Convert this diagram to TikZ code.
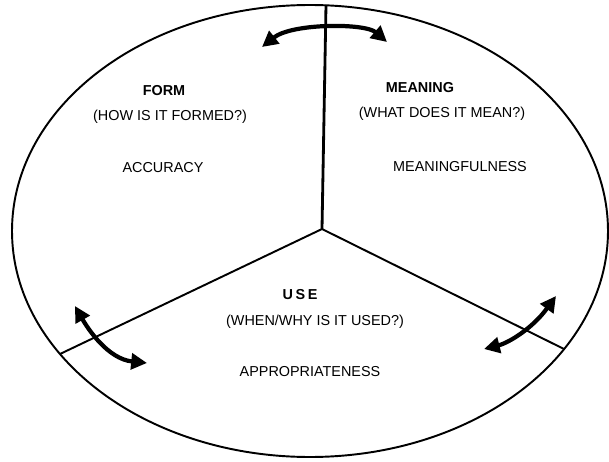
\documentclass[tikz,border=0pt]{standalone}
\usepackage{fontspec}
\setmainfont{Liberation Sans}
\usetikzlibrary{arrows.meta}

\begin{document}
\begin{tikzpicture}[x=0.02cm, y=0.02cm,
  >={Triangle[length=9pt, width=9pt]},
  label/.style={font=\fontsize{8.2}{10}\selectfont, inner sep=0pt},
  head/.style={font=\fontsize{8.2}{10}\selectfont\bfseries, inner sep=0pt},
  rim/.style={line width=1.1pt},
  swing/.style={line width=2.4pt, <->}]

\useasboundingbox (0,0) rectangle (609,461);

% Outer circle
\coordinate (ctr) at (310,230);
\draw[rim] (ctr) ellipse (298 and 226);

% Spokes from the middle to the rim
\coordinate (mid) at (322,232);
\coordinate (top) at (326,456);
\coordinate (lrim) at (60,107);
\coordinate (rrim) at (564,112);
\draw[line width=1.6pt] (mid) -- (top);
\draw[rim] (mid) -- (lrim);
\draw[rim] (mid) -- (rrim);

% Two-way arrows across the spokes
\coordinate (topl) at (262,414);
\coordinate (topr) at (387,419);
\draw[swing] (topl) .. controls (292,438) and (365,438) .. (topr);

\coordinate (lefta) at (75,155);
\coordinate (leftb) at (147,98);
\draw[swing] (lefta) .. controls (88,132) and (108,102) .. (leftb);

\coordinate (righta) at (484,112);
\coordinate (rightb) at (556,165);
\draw[swing] (righta) .. controls (508,118) and (532,132) .. (rightb);

% Form
\node[head] (form) at (164,370) {FORM};
\node[label] (formq) at (170,344) {(HOW IS IT FORMED?)};
\node[label] (acc) at (163,293) {ACCURACY};

% Meaning
\node[head] (mean) at (420,373) {MEANING};
\node[label] (meanq) at (442,347) {(WHAT DOES IT MEAN?)};
\node[label] (meanf) at (460,294) {MEANINGFULNESS};

% Use
\node[head] (use) at (300,166) {U\kern1.5pt S\kern1.5pt E};
\node[label] (useq) at (315,139) {(WHEN/WHY IS IT USED?)};
\node[label] (appr) at (310,89) {APPROPRIATENESS};

\end{tikzpicture}
\end{document}
